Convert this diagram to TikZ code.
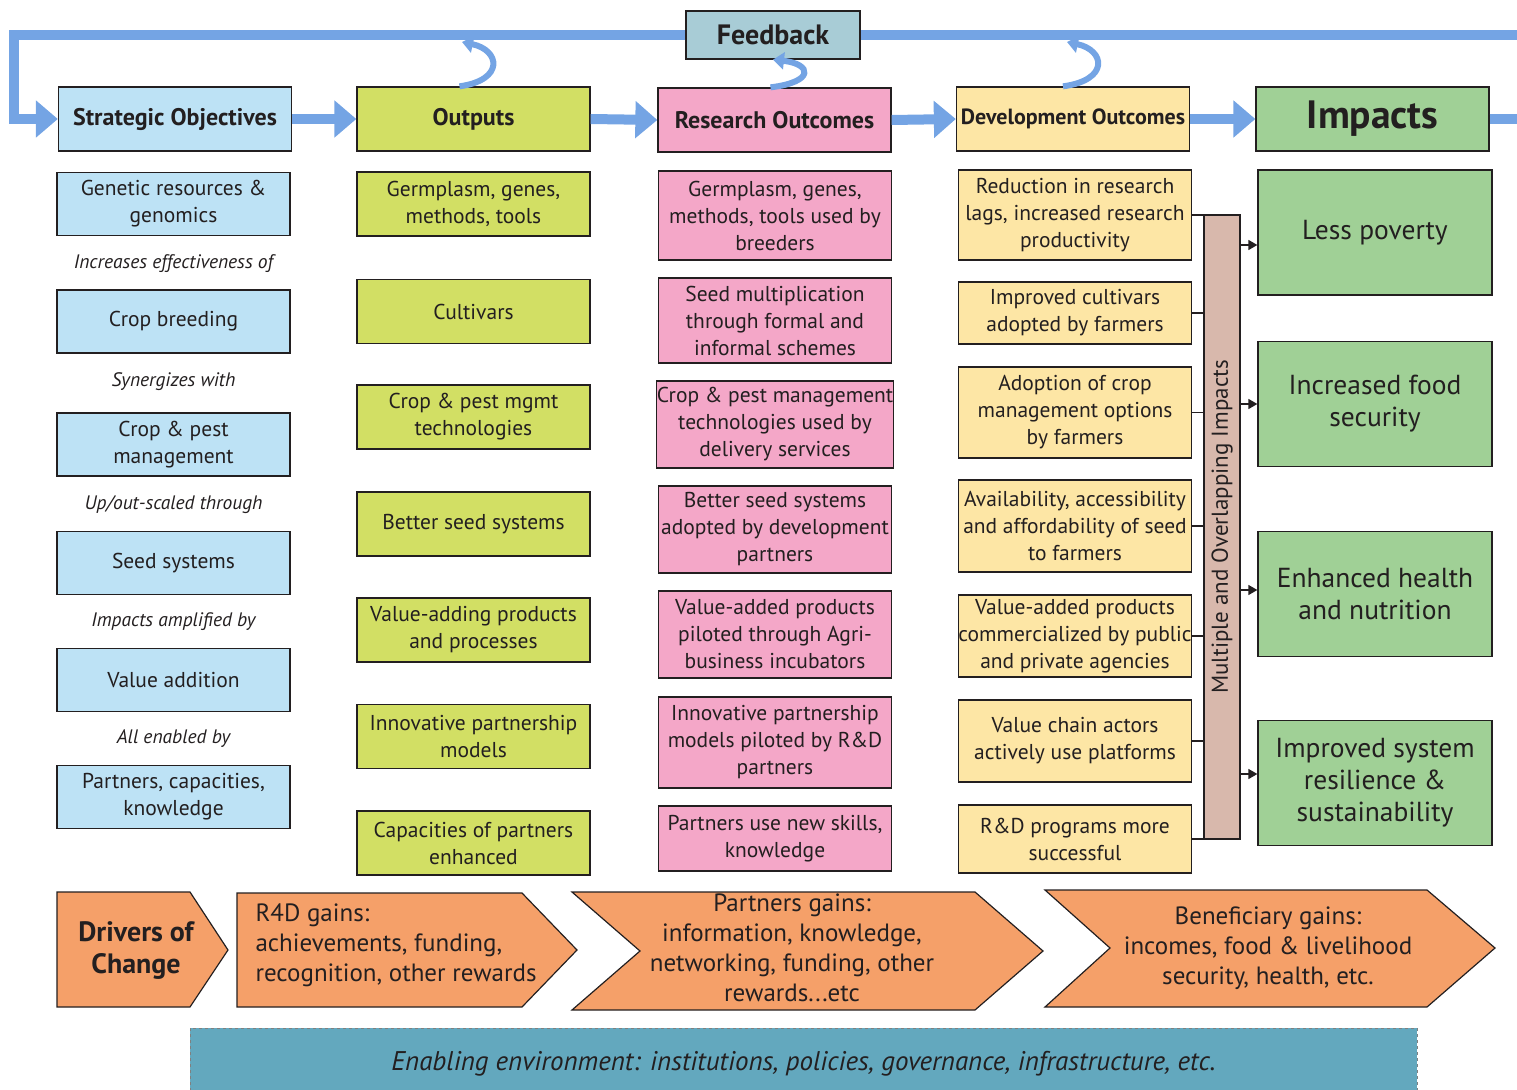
\documentclass[tikz,border=0pt]{standalone}
\usepackage{fontspec}
\setmainfont{PT Sans}
\usetikzlibrary{arrows.meta}
\definecolor{ink}{RGB}{35,31,32}
\definecolor{soblue}{RGB}{189,226,245}
\definecolor{fbgrey}{RGB}{168,204,214}
\definecolor{olive}{RGB}{210,223,100}
\definecolor{pinkish}{RGB}{244,167,200}
\definecolor{cream}{RGB}{253,230,165}
\definecolor{leaf}{RGB}{160,208,150}
\definecolor{clay}{RGB}{216,184,172}
\definecolor{peach}{RGB}{245,160,105}
\definecolor{teal}{RGB}{99,168,190}
\definecolor{loopblue}{RGB}{116,164,228}

\begin{document}
\begin{tikzpicture}[x=1pt,y=-1pt,
	box/.style={draw=ink, line width=1.3pt, minimum width=233pt, align=center, inner sep=0pt, text=ink, font=\fontsize{21.5}{27}\selectfont},
	head/.style={box, minimum height=64pt, font=\fontsize{24}{28}\selectfont\bfseries},
	objbox/.style={box, fill=soblue},
	outbox/.style={box, fill=olive},
	resbox/.style={box, fill=pinkish},
	devbox/.style={box, fill=cream},
	impbox/.style={box, fill=leaf, minimum width=234pt, minimum height=125pt, font=\fontsize{27.5}{32}\selectfont},
	linklabel/.style={text=ink, font=\fontsize{19.5}{23}\selectfont\itshape},
	chev/.style={fill=peach, draw=ink, line width=1.2pt},
	chevtext/.style={text=ink, font=\fontsize{25}{30}\selectfont, align=center},
	loop/.style={draw=loopblue, line width=10pt},
	looptip/.style={-{Triangle[length=22pt,width=36pt]}},
	curl/.style={draw=loopblue, line width=6pt, -{Triangle[length=11pt,width=17pt]}},
	link/.style={draw=ink, line width=1.5pt},
	linktip/.style={link, -{Triangle[length=9pt,width=10pt]}}]
	\path[use as bounding box] (0,0) rectangle (1517,1089);
	\clip (0,0) rectangle (1517,1089);
	
	\node[box, fill=fbgrey, minimum width=174pt, minimum height=48pt, font=\fontsize{28}{30}\selectfont\bfseries] (fb) at (773,35){Feedback};
	\node[head, fill=soblue] (so) at (175,119){Strategic Objectives};
	\node[head, fill=olive] (out) at (473.5,119){Outputs};
	\node[head, fill=pinkish] (ro) at (774.5,120){Research Outcomes};
	\node[head, fill=cream, font=\fontsize{22}{26}\selectfont\bfseries] (do) at (1073,119){Development Outcomes};
	\node[head, fill=leaf, font=\fontsize{39.5}{42}\selectfont\bfseries] (imp) at (1372.5,119){Impacts};
	
	\coordinate (lc) at (14,119);
	\coordinate (rc) at (1540,119);
	\draw[loop] (imp.east) -- (rc) |- (fb.east);
	\draw[loop, looptip] (fb.west) -| (lc) -- (so.west);
	\draw[loop, looptip] (so.east) -- (out.west);
	\draw[loop, looptip] (out.east) -- (ro.west);
	\draw[loop, looptip] (ro.east) -- (do.west);
	\draw[loop, looptip] (do.east) -- (imp.west);
	\draw[curl] ([xshift=-14pt]out.north) .. controls (505,80) and (500,50) .. (462,42);
	\draw[curl] ([xshift=-4pt]ro.north) .. controls (815,82) and (812,64) .. (fb.south);
	\draw[curl] ([xshift=-10pt]do.north) .. controls (1110,80) and (1105,50) .. (1067,42);
	
	\node[objbox, minimum height=63pt] (gen) at (173.5,204){Genetic resources \&\\genomics};
	\node[linklabel] (l1) at (173.5,264){Increases effectiveness of};
	\node[objbox, minimum height=63pt] (cb) at (173.5,321.5){Crop breeding};
	\node[linklabel] (l2) at (173.5,382){Synergizes with};
	\node[objbox, minimum height=63pt] (cp) at (173.5,444.5){Crop \& pest\\management};
	\node[linklabel] (l3) at (173.5,505){Up/out-scaled through};
	\node[objbox, minimum height=63pt] (ss) at (173.5,563){Seed systems};
	\node[linklabel] (l4) at (173.5,622){Impacts amplified by};
	\node[objbox, minimum height=63pt] (va) at (173.5,680){Value addition};
	\node[linklabel] (l5) at (173.5,739){All enabled by};
	\node[objbox, minimum height=63pt] (pc) at (173.5,797){Partners, capacities,\\knowledge};
	
	\node[outbox, minimum height=64pt] (o1) at (473.5,204){Germplasm, genes,\\methods, tools};
	\node[outbox, minimum height=64pt] (o2) at (473.5,311.5){Cultivars};
	\node[outbox, minimum height=64pt] (o3) at (473.5,417){Crop \& pest mgmt\\technologies};
	\node[outbox, minimum height=64pt] (o4) at (473.5,524){Better seed systems};
	\node[outbox, minimum height=64pt] (o5) at (473.5,630){Value-adding products\\and processes};
	\node[outbox, minimum height=64pt] (o6) at (473.5,736.5){Innovative partnership\\models};
	\node[outbox, minimum height=64pt] (o7) at (473.5,843){Capacities of partners\\enhanced};
	
	\node[resbox, minimum height=89pt] (r1) at (775,215.5){Germplasm, genes,\\methods, tools used by\\breeders};
	\node[resbox, minimum height=85pt] (r2) at (775,320.5){Seed multiplication\\through formal and\\informal schemes};
	\node[resbox, minimum height=87pt] (r3) at (775,424.5){Crop \& pest management\\technologies used by\\delivery services};
	\node[resbox, minimum height=87pt] (r4) at (775,529.5){Better seed systems\\adopted by development\\partners};
	\node[resbox, minimum height=87pt] (r5) at (775,634.5){Value-added products\\piloted through Agri-\\business incubators};
	\node[resbox, minimum height=91pt] (r6) at (775,742.5){Innovative partnership\\models piloted by R\&D\\partners};
	\node[resbox, minimum height=65pt] (r7) at (775,838.5){Partners use new skills,\\knowledge};
	
	\node[devbox, minimum height=90pt] (d1) at (1075,215){Reduction in research\\lags, increased research\\productivity};
	\node[devbox, minimum height=62pt] (d2) at (1075,313){Improved cultivars\\adopted by farmers};
	\node[devbox, minimum height=91pt] (d3) at (1075,412.5){Adoption of crop\\management options\\by farmers};
	\node[devbox, minimum height=92pt] (d4) at (1075,526){Availability, accessibility\\and affordability of seed\\to farmers};
	\node[devbox, minimum height=82pt] (d5) at (1075,636){Value-added products\\commercialized by public\\and private agencies};
	\node[devbox, minimum height=82pt] (d6) at (1075,741){Value chain actors\\actively use platforms};
	\node[devbox, minimum height=68pt] (d7) at (1075,839){R\&D programs more\\successful};
	
	\node[box, fill=clay, minimum width=36pt, minimum height=624pt] (bar) at (1222,527){};
	\node[rotate=90, text=ink, font=\fontsize{23}{26}\selectfont] (bartext) at (bar){Multiple and Overlapping Impacts};
	\foreach \d in {d1,d2,d3,d4,d5,d6,d7}
		\draw[link] (\d.east) -- (\d.east -| bar.west);
	
	\node[impbox] (i1) at (1375,232.5){Less poverty};
	\node[impbox] (i2) at (1375,404){Increased food\\security};
	\node[impbox] (i3) at (1375,594){Enhanced health\\and nutrition};
	\node[impbox] (i4) at (1375,783){Improved system\\resilience \&\\sustainability};
	\draw[linktip] (bar.east |- 0,245) -- (i1.west |- 0,245);
	\draw[linktip] (bar.east |- i2.west) -- (i2.west);
	\draw[linktip] (bar.east |- 0,590) -- (i3.west |- 0,590);
	\draw[linktip] (bar.east |- 0,774) -- (i4.west |- 0,774);
	
	\filldraw[chev] (57,892) -- (190,892) -- (228,950) -- (190,1007) -- (57,1007) -- cycle;
	\filldraw[chev] (237,893) -- (522,893) -- (577,950) -- (522,1007) -- (237,1007) -- cycle;
	\filldraw[chev] (572,892) -- (975,892) -- (1043,951) -- (975,1010) -- (572,1010) -- (640,951) -- cycle;
	\filldraw[chev] (1045,890) -- (1427,890) -- (1495,948) -- (1427,1007) -- (1045,1007) -- (1110,948) -- cycle;
	\node[chevtext, font=\fontsize{28}{32}\selectfont\bfseries] (drivers) at (136,951){Drivers of\\Change};
	\node[chevtext, align=left, anchor=west] (r4d) at (252,945){R4D gains:\\achievements, funding,\\recognition, other rewards};
	\node[chevtext] (partners) at (792,948){Partners gains:\\information, knowledge,\\networking, funding, other\\rewards...etc};
	\node[chevtext] (benef) at (1268,948){Beneficiary gains:\\incomes, food \& livelihood\\security, health, etc.};
	
	\node[fill=teal, draw=gray, dashed, line width=1pt, minimum width=1227pt, minimum height=72pt, text=ink, font=\fontsize{27}{30}\selectfont\itshape] (env) at (803.5,1064){Enabling environment: institutions, policies, governance, infrastructure, etc.};
\end{tikzpicture}
\end{document}
